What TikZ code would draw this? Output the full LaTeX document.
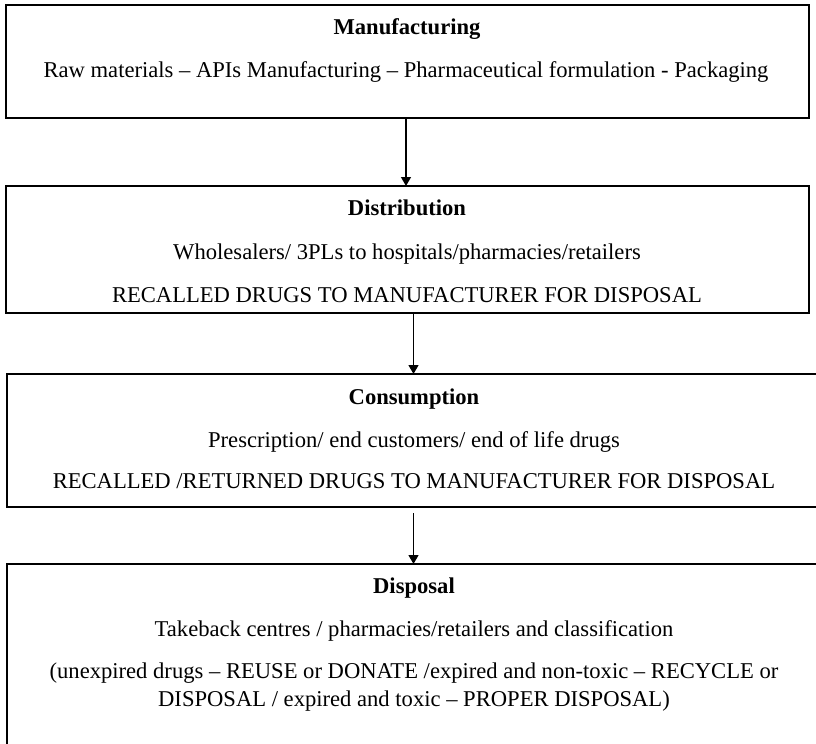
\documentclass[tikz,border=0pt]{standalone}
\usepackage{fontspec}
\setmainfont{Liberation Serif}
\usetikzlibrary{arrows.meta}
\begin{document}
\begin{tikzpicture}[x=0.5pt,y=-0.5pt,
  box/.style={draw=black, line width=1pt, rectangle, inner sep=0pt, outer sep=0pt},
  ttl/.style={anchor=base, font=\fontsize{11.3}{14}\selectfont\bfseries, inner sep=0pt},
  txt/.style={anchor=base, font=\fontsize{11.3}{14}\selectfont, inner sep=0pt},
  conn/.style={draw=black, line width=0.6pt, -{Triangle[length=4.5pt,width=5pt]}}]
\useasboundingbox (0,0) rectangle (816,744);
% boxes
\node[box, minimum width=401.5pt, minimum height=56.5pt] (b1) at (407.5,61.5) {};
\node[box, minimum width=401.5pt, minimum height=63.5pt] (b2) at (407.5,249.5) {};
\node[box, minimum width=406.5pt, minimum height=66.5pt] (b3) at (413.5,440.5) {};
\node[box, minimum width=406.5pt, minimum height=98pt] (b4) at (413.5,662) {};
% texts
\node[ttl] (t1) at (407,34) {Manufacturing};
\node[txt] (s1) at (406,77) {Raw materials – APIs Manufacturing – Pharmaceutical formulation - Packaging};
\node[ttl] (t2) at (407,215) {Distribution};
\node[txt] (s2) at (407,259) {Wholesalers/ 3PLs to hospitals/pharmacies/retailers};
\node[txt] (r2) at (407,302) {RECALLED DRUGS TO MANUFACTURER FOR DISPOSAL};
\node[ttl] (t3) at (414,404) {Consumption};
\node[txt] (s3) at (414,447) {Prescription/ end customers/ end of life drugs};
\node[txt] (r3) at (414,488) {RECALLED /RETURNED DRUGS TO MANUFACTURER FOR DISPOSAL};
\node[ttl] (t4) at (414,593) {Disposal};
\node[txt] (s4) at (414,636) {Takeback centres / pharmacies/retailers and classification};
\node[txt, align=center, anchor=center] (r4) at (414,687) {(unexpired drugs – REUSE or DONATE /expired and non-toxic – RECYCLE or\\DISPOSAL / expired and toxic – PROPER DISPOSAL)};
% connectors
\coordinate (a1) at (b1.south -| 406,0);
\coordinate (a2) at (b2.south -| b3.north);
\coordinate (a3) at (b3.south);
\draw[conn] (a1) -- (a1 |- b2.north);
\draw[conn] (a2) -- (b3.north);
\draw[conn, shorten <=3pt] (a3) -- (b4.north);
\end{tikzpicture}
\end{document}
